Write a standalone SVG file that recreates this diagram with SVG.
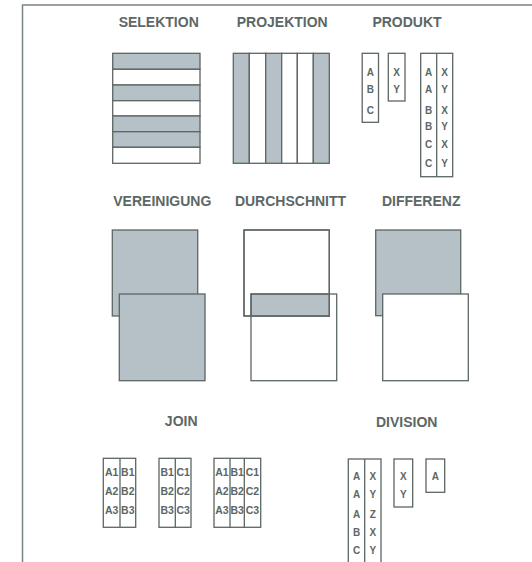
<svg xmlns="http://www.w3.org/2000/svg" width="532" height="562" viewBox="0 0 532 562">
<style>
.h{font-family:"Liberation Sans",Arial,sans-serif;font-weight:bold;font-size:14px;fill:#5d6765;text-anchor:middle}
.t{font-family:"Liberation Sans",Arial,sans-serif;font-weight:bold;font-size:10px;fill:#5d6765;text-anchor:middle}
.j{font-family:"Liberation Sans",Arial,sans-serif;font-weight:bold;font-size:10.5px;fill:#5d6765;text-anchor:middle}
.g{fill:#b6c0c7;stroke:#5c6663;stroke-width:1.3}
.w{fill:#ffffff;stroke:#5c6663;stroke-width:1.3}
.n{fill:none;stroke:#5c6663;stroke-width:1.3}
.l{stroke:#5c6663;stroke-width:1.3}
</style>
<rect width="532" height="562" fill="#ffffff"/>
<g id="frame"><path d="M22.5 562 V5 H532" fill="none" stroke="#7a8482" stroke-width="1.5"/></g>

<g id="selektion">
<text class="h" x="158.7" y="26.5">SELEKTION</text>
<rect class="g" x="112.7" y="53.3" width="87.3" height="16"/>
<rect class="w" x="112.7" y="69.3" width="87.3" height="15.7"/>
<rect class="g" x="112.7" y="85" width="87.3" height="15.7"/>
<rect class="w" x="112.7" y="100.7" width="87.3" height="15.3"/>
<rect class="g" x="112.7" y="116" width="87.3" height="15.7"/>
<rect class="g" x="112.7" y="131.7" width="87.3" height="15.6"/>
<rect class="w" x="112.7" y="147.3" width="87.3" height="16"/>
</g>

<g id="projektion">
<text class="h" x="282.2" y="26.5">PROJEKTION</text>
<rect class="g" x="233.3" y="53.3" width="16" height="110"/>
<rect class="w" x="249.3" y="53.3" width="16.4" height="110"/>
<rect class="g" x="265.7" y="53.3" width="16" height="110"/>
<rect class="w" x="281.7" y="53.3" width="15.6" height="110"/>
<rect class="w" x="297.3" y="53.3" width="16" height="110"/>
<rect class="g" x="313.3" y="53.3" width="16" height="110"/>
</g>

<g id="produkt">
<text class="h" x="407" y="26.5">PRODUKT</text>
<rect class="w" x="362.2" y="53.3" width="16.3" height="69"/>
<text class="t" x="370.3" y="75.8">A</text>
<text class="t" x="370.3" y="92.5">B</text>
<text class="t" x="370.3" y="113.5">C</text>
<rect class="w" x="388.3" y="53.3" width="16.7" height="47.7"/>
<text class="t" x="396.7" y="75.8">X</text>
<text class="t" x="396.7" y="92.5">Y</text>
<rect class="w" x="420.7" y="53.3" width="32" height="123.4"/>
<line class="l" x1="436.7" y1="53.3" x2="436.7" y2="176.7"/>
<text class="t" x="428.7" y="75.8">A</text>
<text class="t" x="428.7" y="92.5">A</text>
<text class="t" x="428.7" y="113.5">B</text>
<text class="t" x="428.7" y="130.2">B</text>
<text class="t" x="428.7" y="147.8">C</text>
<text class="t" x="428.7" y="166.8">C</text>
<text class="t" x="444.7" y="75.8">X</text>
<text class="t" x="444.7" y="92.5">Y</text>
<text class="t" x="444.7" y="113.5">X</text>
<text class="t" x="444.7" y="130.2">Y</text>
<text class="t" x="444.7" y="147.8">X</text>
<text class="t" x="444.7" y="166.8">Y</text>
</g>

<g id="vereinigung">
<text class="h" x="162.3" y="206">VEREINIGUNG</text>
<rect class="g" x="112.3" y="230" width="85.4" height="86"/>
<rect class="g" x="119.3" y="294" width="85.7" height="86.7"/>
</g>

<g id="durchschnitt">
<text class="h" x="290.5" y="206">DURCHSCHNITT</text>
<rect class="w" x="244" y="230" width="85.3" height="86"/>
<rect class="g" x="251" y="294" width="78.3" height="22" stroke="none"/>
<rect class="n" x="244" y="230" width="85.3" height="86"/>
<rect class="n" x="251" y="294" width="85.7" height="86.7"/>
</g>

<g id="differenz">
<text class="h" x="421.2" y="206">DIFFERENZ</text>
<rect class="g" x="375.7" y="230" width="85" height="85.7"/>
<rect class="w" x="382.7" y="294" width="85.6" height="86.7"/>
</g>

<g id="join">
<text class="h" x="181.2" y="426">JOIN</text>
<rect class="w" x="103.3" y="458.3" width="32.4" height="69"/>
<line class="l" x1="120" y1="458.3" x2="120" y2="527.3"/>
<text class="j" x="111.7" y="475.5">A1</text>
<text class="j" x="111.7" y="494.8">A2</text>
<text class="j" x="111.7" y="513.8">A3</text>
<text class="j" x="127.8" y="475.5">B1</text>
<text class="j" x="127.8" y="494.8">B2</text>
<text class="j" x="127.8" y="513.8">B3</text>
<rect class="w" x="159" y="458.3" width="32" height="69"/>
<line class="l" x1="175.3" y1="458.3" x2="175.3" y2="527.3"/>
<text class="j" x="167.2" y="475.5">B1</text>
<text class="j" x="167.2" y="494.8">B2</text>
<text class="j" x="167.2" y="513.8">B3</text>
<text class="j" x="183.2" y="475.5">C1</text>
<text class="j" x="183.2" y="494.8">C2</text>
<text class="j" x="183.2" y="513.8">C3</text>
<rect class="w" x="214" y="458.3" width="46.7" height="69"/>
<line class="l" x1="230" y1="458.3" x2="230" y2="527.3"/>
<line class="l" x1="244.3" y1="458.3" x2="244.3" y2="527.3"/>
<text class="j" x="222" y="475.5">A1</text>
<text class="j" x="222" y="494.8">A2</text>
<text class="j" x="222" y="513.8">A3</text>
<text class="j" x="237.2" y="475.5">B1</text>
<text class="j" x="237.2" y="494.8">B2</text>
<text class="j" x="237.2" y="513.8">B3</text>
<text class="j" x="252.5" y="475.5">C1</text>
<text class="j" x="252.5" y="494.8">C2</text>
<text class="j" x="252.5" y="513.8">C3</text>
</g>

<g id="division">
<text class="h" x="406.7" y="426.5">DIVISION</text>
<rect class="w" x="348.3" y="459" width="32.7" height="110"/>
<line class="l" x1="364.7" y1="459" x2="364.7" y2="569"/>
<text class="t" x="356.5" y="479.6">A</text>
<text class="t" x="356.5" y="497.6">A</text>
<text class="t" x="356.5" y="517.6">A</text>
<text class="t" x="356.5" y="535.9">B</text>
<text class="t" x="356.5" y="553.6">C</text>
<text class="t" x="372.8" y="479.6">X</text>
<text class="t" x="372.8" y="497.6">Y</text>
<text class="t" x="372.8" y="517.6">Z</text>
<text class="t" x="372.8" y="535.9">X</text>
<text class="t" x="372.8" y="553.6">Y</text>
<rect class="w" x="394" y="459" width="18.7" height="48"/>
<text class="t" x="403.3" y="479.6">X</text>
<text class="t" x="403.3" y="497.6">Y</text>
<rect class="w" x="426" y="459" width="18.7" height="33.3"/>
<text class="t" x="435.3" y="479.6">A</text>
</g>
</svg>
